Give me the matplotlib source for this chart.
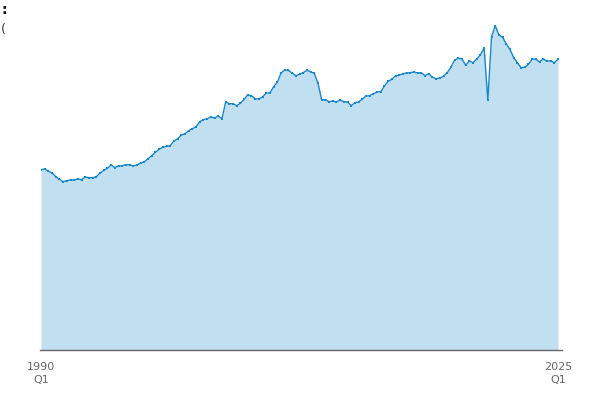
import numpy as np
import matplotlib
matplotlib.use("Agg")
import matplotlib.pyplot as plt

# quarterly series, 1990 Q1 .. 2025 Q1 (arbitrary units)
quarters = [f"{y} Q{q}" for y in range(1990, 2026) for q in range(1, 5)][:141]
values = [
    180.3, 181.0, 179.0, 177.0, 173.3, 170.7, 168.3, 169.3, 170.0, 170.0,
    171.0, 170.3, 173.0, 172.3, 172.3, 173.3, 177.0, 179.7, 181.7, 185.3,
    182.3, 184.0, 184.3, 185.3, 185.2, 184.2, 185.0, 187.0, 188.3, 191.3,
    194.3, 198.0, 200.7, 202.7, 203.7, 204.3, 209.0, 211.3, 215.0, 216.3,
    219.3, 221.3, 223.3, 228.3, 230.3, 231.3, 233.0, 232.0, 234.0, 231.3,
    248.0, 246.3, 246.3, 244.3, 246.7, 250.7, 255.3, 254.3, 251.3, 251.0,
    253.0, 257.0, 257.0, 263.3, 267.7, 277.0, 280.0, 279.7, 277.0, 274.3,
    275.7, 277.3, 279.7, 278.3, 276.7, 266.7, 250.3, 250.3, 248.3, 249.0,
    248.0, 250.0, 248.3, 248.0, 244.3, 247.3, 248.0, 251.0, 254.0, 254.3,
    256.3, 258.0, 258.3, 264.0, 268.7, 270.7, 274.3, 274.7, 276.3, 277.0,
    277.3, 278.0, 277.0, 277.3, 274.3, 276.3, 272.7, 271.3, 272.0, 273.7,
    277.3, 282.7, 290.0, 291.7, 291.0, 284.7, 289.0, 287.3, 291.0, 295.3,
    302.0, 249.7, 313.3, 324.3, 315.0, 312.7, 306.0, 300.7, 292.3, 287.3,
    282.3, 282.7, 285.7, 290.7, 291.0, 288.0, 291.3, 288.7, 289.3, 287.3,
    290.7,
]
first_label = "1990\nQ1"
last_label = "2025\nQ1"

line_col = "#1a86c8"
fill_col = "#c0dff0"
grey = "#666666"

fig = plt.figure(figsize=(6, 4), dpi=100)
ax = fig.add_axes([41 / 600, 50 / 400, 517 / 600, 330 / 400])

x = np.arange(len(values))
ax.fill_between(x, values, 0, color=fill_col, linewidth=0)
ax.plot(x, values, color=line_col, linewidth=1, marker="s", markersize=1.8,
        markeredgewidth=0)

ax.set_xlim(0, len(values) - 1)
ax.set_ylim(0, 330)
ax.set_xticks([0, len(values) - 1])
ax.set_xticklabels([first_label, last_label], fontsize=8, color=grey,
                   linespacing=1.35)
ax.tick_params(axis="x", length=0, pad=9)
ax.set_yticks([])
for s in ["top", "right", "left"]:
    ax.spines[s].set_visible(False)
ax.spines["bottom"].set_color(grey)
ax.spines["bottom"].set_linewidth(1)
ax.spines["bottom"].set_bounds(-0.2, len(values) - 1 + 1.1)

fig.text(0.002, 0.974, ":", fontsize=10, fontweight="bold", color="#111111",
         va="center", ha="left")
fig.text(0.002, 0.927, "(", fontsize=9, color="#333333", va="center", ha="left")

fig.savefig("out.png", dpi=100)
